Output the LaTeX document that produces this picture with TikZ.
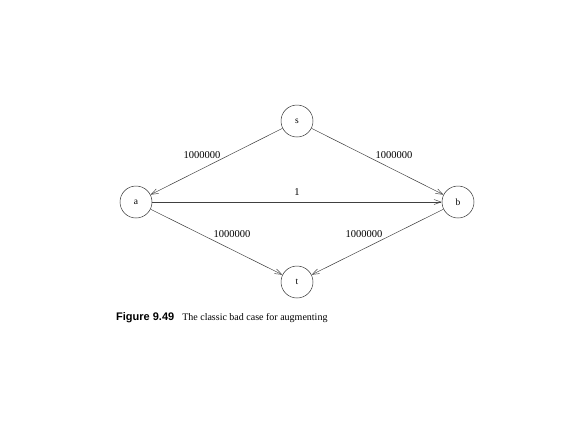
\documentclass[tikz,border=0pt]{standalone}
\usepackage{fontspec}
\setmainfont{Liberation Serif}
\newfontfamily\capsans{Liberation Sans}
\usetikzlibrary{arrows.meta}
\begin{document}
\begin{tikzpicture}[x=1pt,y=-1pt,
  vert/.style={circle,draw=black!80,line width=0.5pt,minimum size=32pt,inner sep=0pt,font=\fontsize{9.5}{11}\selectfont},
  edge/.style={draw=black!75,line width=0.5pt,-{Straight Barb[length=7pt,width=5pt]}},
  lab/.style={font=\fontsize{10.5}{12}\selectfont,inner sep=1pt}]
\useasboundingbox (0,0) rectangle (576,432);
\node[vert] (s) at (297,121) {s};
\node[vert] (a) at (136,202) {a};
\node[vert] (b) at (458,202) {b};
\node[vert] (t) at (297,282) {t};
\draw[edge] (s) -- (a);
\draw[edge] (s) -- (b);
\draw[edge] (a) -- (b);
\draw[edge] (a) -- (t);
\draw[edge] (b) -- (t);
\node[lab] (l1) at (202,155) {1000000};
\node[lab] (l2) at (394,155) {1000000};
\node[lab] (l3) at (297,192) {1};
\node[lab] (l4) at (232,234) {1000000};
\node[lab] (l5) at (364,234) {1000000};
\node[anchor=west,inner sep=0pt,font=\fontsize{10}{12}\selectfont] (cap) at (116,318) {{\capsans\bfseries\fontsize{11}{12}\selectfont Figure 9.49}\hspace{8pt}The classic bad case for augmenting};
\end{tikzpicture}
\end{document}
